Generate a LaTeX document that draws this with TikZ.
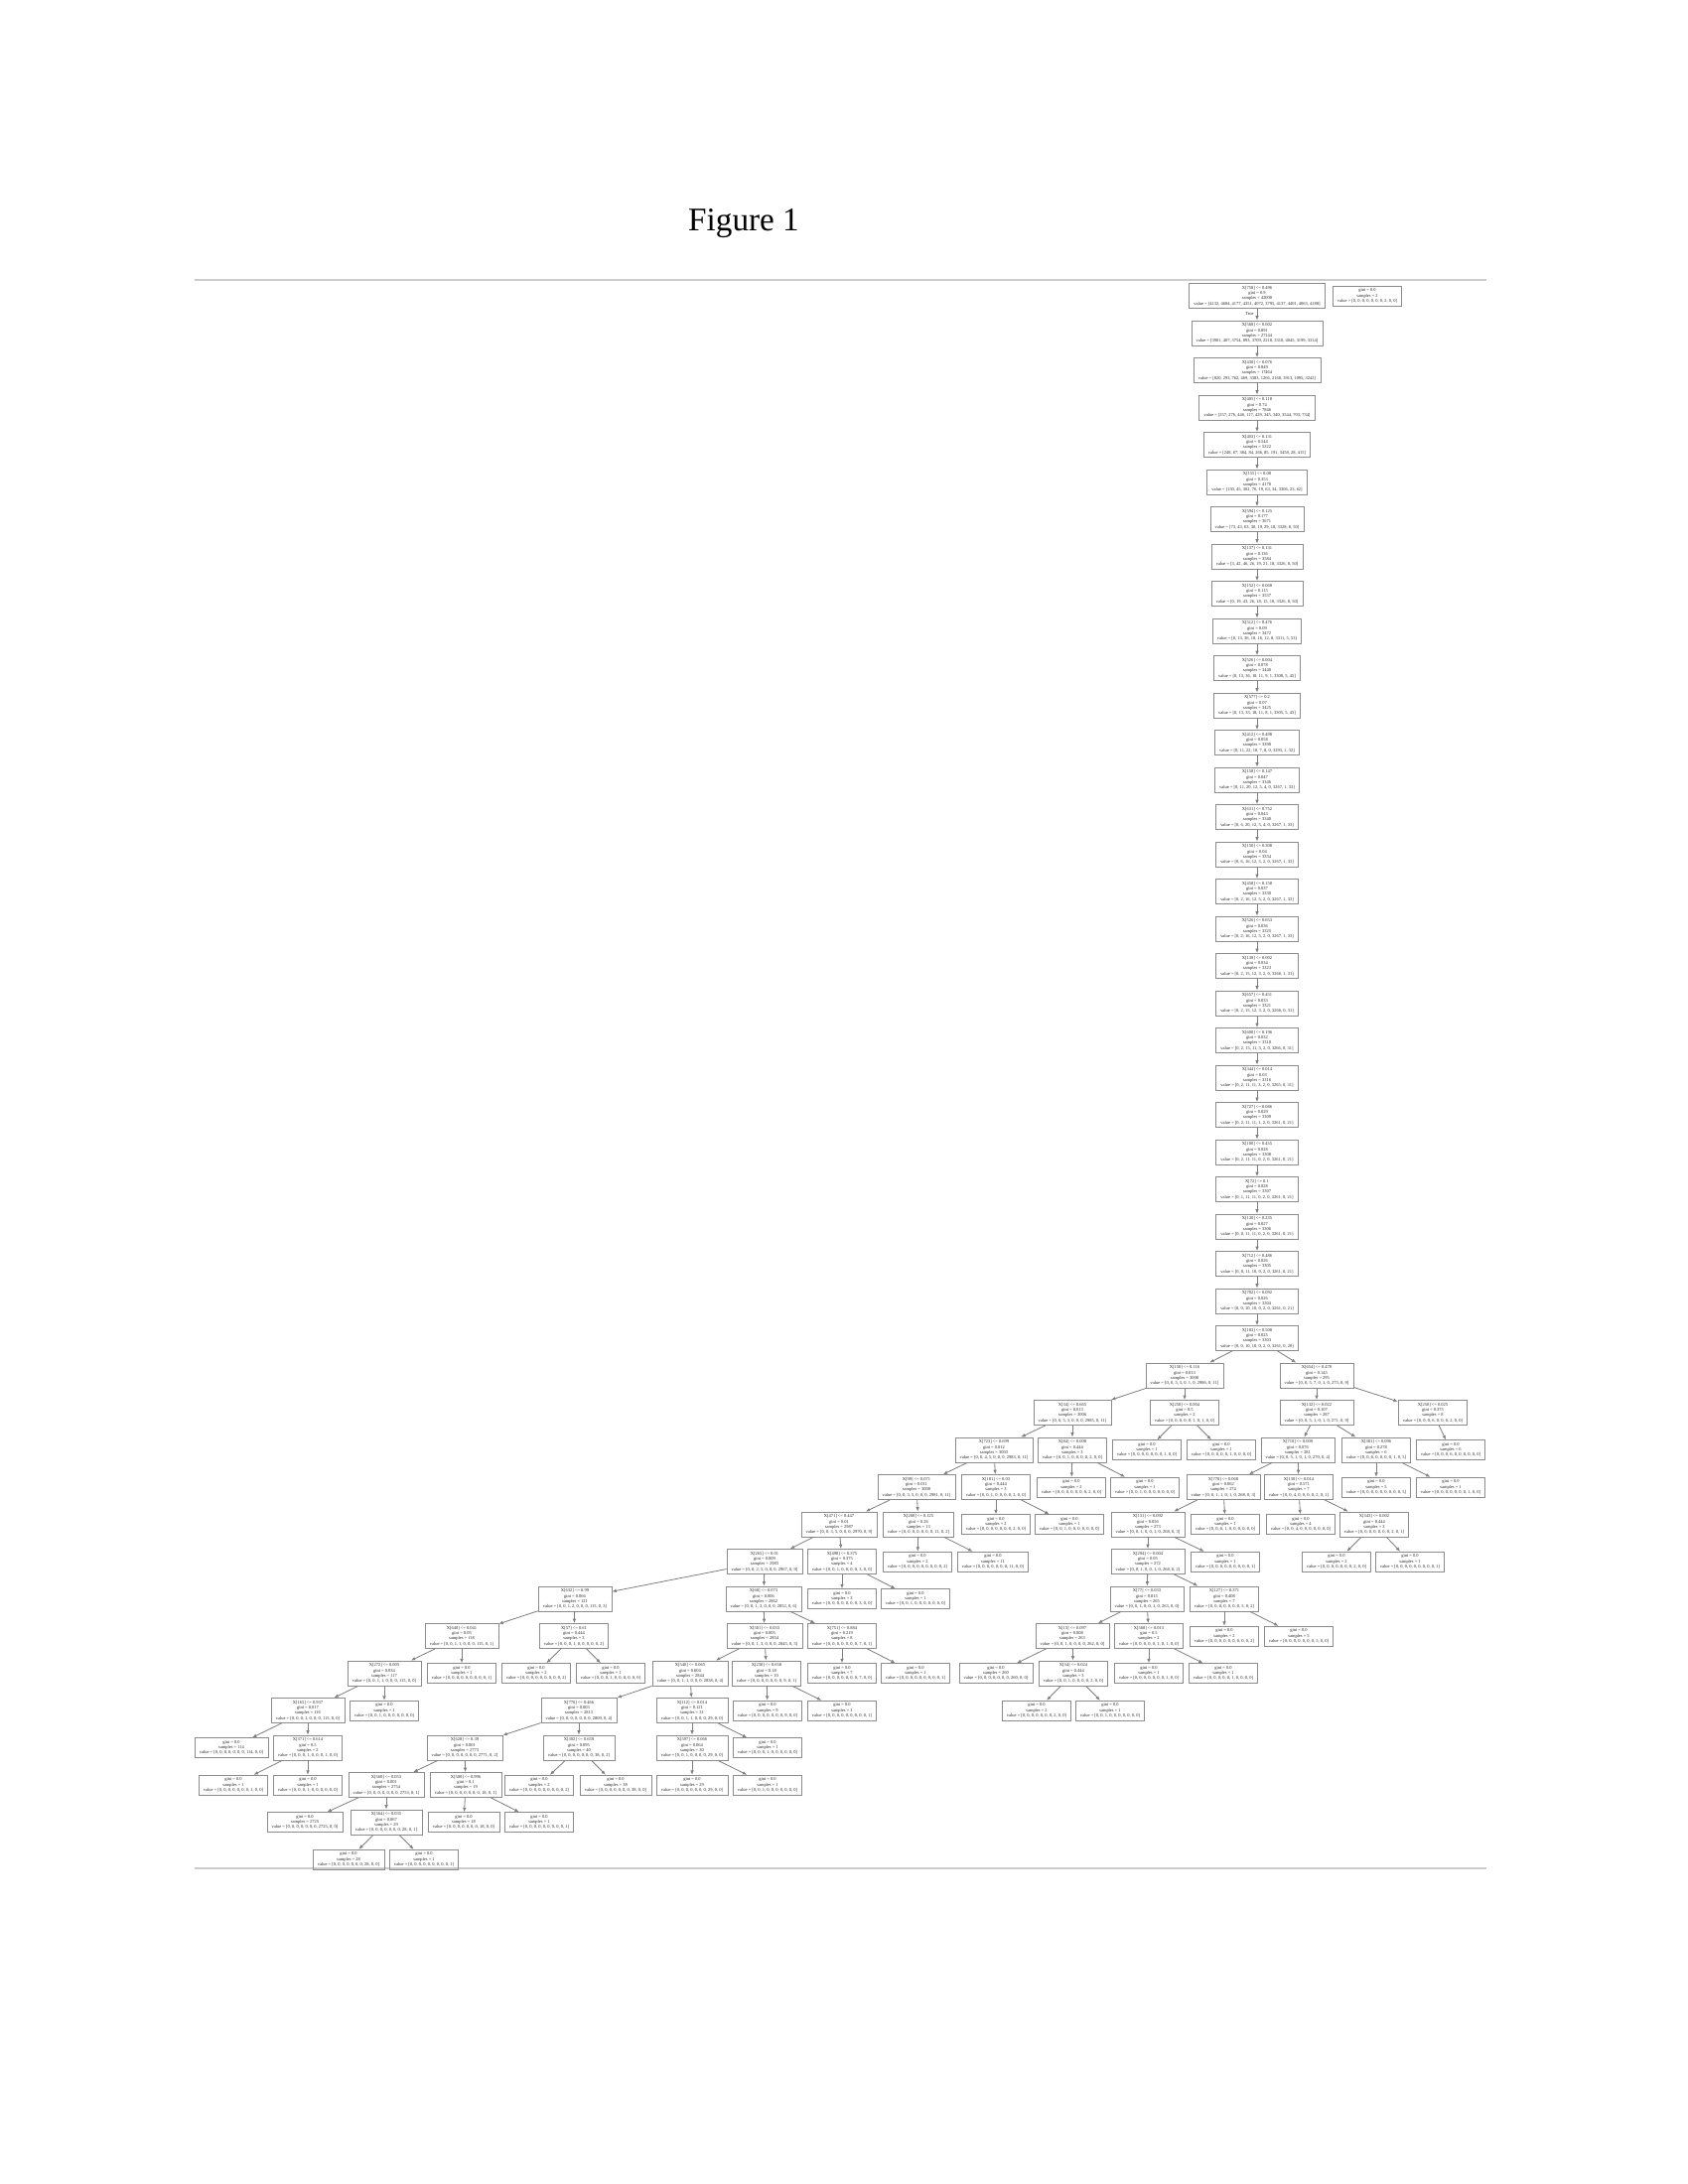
\documentclass[tikz,border=0pt]{standalone}
\usepackage{fontspec}
\setmainfont{Liberation Serif}
\usetikzlibrary{arrows.meta}
\newcommand\SN[5]{X[#1] <= #2\\gini = #3\\samples = #4\\value = [#5]}
\newcommand\LF[3]{gini = #1\\samples = #2\\value = [#3]}
\tikzset{
  tn/.style={draw=black!45, line width=0.25pt, rectangle, inner xsep=1.7pt, inner ysep=1pt,
    align=center, text=black!85, font=\fontsize{1.62pt}{1.9pt}\selectfont},
  ed/.style={draw=black!50, line width=0.3pt, -{Latex[length=1.6pt,width=1.3pt]}},
  rule/.style={draw=black!20, line width=0.4pt}
}
\begin{document}
\begin{tikzpicture}[x=0.127mm, y=-0.127mm]
\useasboundingbox (0,0) rectangle (1700,2200);
\node[anchor=base, font=\fontsize{12pt}{14pt}\selectfont, inner sep=0pt] (title) at (749,232) {Figure 1};
\coordinate (r1a) at (196,282); \coordinate (r1b) at (1497,282);
\coordinate (r2a) at (196,1882); \coordinate (r2b) at (1497,1882);
\draw[rule] (r1a) -- (r1b);
\draw[rule] (r2a) -- (r2b);

% ---- chain ----
\node[tn] (c0) at (1266,298) {\SN{758}{0.496}{0.9}{42000}{4132, 4684, 4177, 4351, 4072, 3795, 4137, 4401, 4063, 4188}};
\node[tn] (rootleaf) at (1377,298) {\LF{0.0}{2}{0, 0, 0, 0, 0, 0, 0, 2, 0, 0}};
\node[tn] (c1) at (1266,335.5) {\SN{568}{0.002}{0.891}{27144}{3901, 407, 3754, 893, 3709, 2218, 3310, 4045, 3199, 3314}};
\node[tn] (c2) at (1266,373) {\SN{430}{0.076}{0.849}{17464}{820, 293, 762, 469, 3383, 1266, 2168, 3913, 1095, 3242}};
\node[tn] (c3) at (1266,410.5) {\SN{405}{0.118}{0.74}{7846}{257, 276, 446, 117, 429, 345, 340, 3544, 703, 734}};
\node[tn] (c4) at (1266,448) {\SN{403}{0.131}{0.544}{5222}{248, 67, 384, 84, 266, 85, 191, 3458, 28, 415}};
\node[tn] (c5) at (1266,485.5) {\SN{155}{0.08}{0.353}{4170}{150, 45, 302, 76, 19, 63, 34, 3306, 23, 62}};
\node[tn] (c6) at (1266,523) {\SN{594}{0.125}{0.177}{3671}{73, 43, 63, 30, 19, 29, 18, 3328, 8, 50}};
\node[tn] (c7) at (1266,560.5) {\SN{137}{0.131}{0.136}{3584}{3, 42, 46, 26, 19, 21, 18, 3326, 8, 50}};
\node[tn] (c8) at (1266,598) {\SN{152}{0.068}{0.115}{3537}{0, 19, 43, 26, 18, 15, 18, 3326, 8, 50}};
\node[tn] (c9) at (1266,635.5) {\SN{512}{0.476}{0.09}{3472}{0, 13, 36, 18, 16, 12, 8, 3311, 5, 53}};
\node[tn] (c10) at (1266,673) {\SN{526}{0.004}{0.078}{3440}{0, 13, 36, 18, 11, 9, 1, 3308, 5, 45}};
\node[tn] (c11) at (1266,710.5) {\SN{577}{0.2}{0.07}{3425}{0, 13, 33, 18, 11, 8, 1, 3305, 5, 45}};
\node[tn] (c12) at (1266,748) {\SN{412}{0.498}{0.058}{3390}{0, 11, 22, 18, 7, 8, 0, 3293, 1, 32}};
\node[tn] (c13) at (1266,785.5) {\SN{158}{0.147}{0.047}{3346}{0, 11, 20, 12, 5, 4, 0, 3267, 1, 33}};
\node[tn] (c14) at (1266,823) {\SN{631}{0.752}{0.043}{3340}{0, 6, 20, 12, 5, 4, 0, 3267, 1, 33}};
\node[tn] (c15) at (1266,860.5) {\SN{150}{0.308}{0.04}{3334}{0, 6, 16, 12, 5, 2, 0, 3267, 1, 33}};
\node[tn] (c16) at (1266,898) {\SN{458}{0.158}{0.037}{3330}{0, 2, 16, 12, 5, 2, 0, 3267, 1, 33}};
\node[tn] (c17) at (1266,935.5) {\SN{526}{0.653}{0.036}{3325}{0, 2, 16, 12, 5, 2, 0, 3267, 1, 33}};
\node[tn] (c18) at (1266,973) {\SN{130}{0.002}{0.034}{3323}{0, 2, 15, 12, 3, 2, 0, 3266, 1, 31}};
\node[tn] (c19) at (1266,1010.5) {\SN{657}{0.451}{0.033}{3321}{0, 2, 15, 12, 3, 2, 0, 3266, 0, 31}};
\node[tn] (c20) at (1266,1048) {\SN{600}{0.196}{0.032}{3318}{0, 2, 15, 11, 3, 2, 0, 3266, 0, 31}};
\node[tn] (c21) at (1266,1085.5) {\SN{344}{0.014}{0.03}{3316}{0, 2, 11, 11, 3, 2, 0, 3265, 0, 31}};
\node[tn] (c22) at (1266,1123) {\SN{727}{0.086}{0.029}{3309}{0, 2, 11, 11, 1, 2, 0, 3261, 0, 21}};
\node[tn] (c23) at (1266,1160.5) {\SN{100}{0.455}{0.028}{3308}{0, 2, 11, 11, 0, 2, 0, 3261, 0, 21}};
\node[tn] (c24) at (1266,1198) {\SN{72}{0.1}{0.028}{3307}{0, 1, 11, 11, 0, 2, 0, 3261, 0, 21}};
\node[tn] (c25) at (1266,1235.5) {\SN{130}{0.235}{0.027}{3306}{0, 0, 11, 11, 0, 2, 0, 3261, 0, 21}};
\node[tn] (c26) at (1266,1273) {\SN{712}{0.486}{0.026}{3305}{0, 0, 11, 10, 0, 2, 0, 3261, 0, 21}};
\node[tn] (c27) at (1266,1310.5) {\SN{702}{0.092}{0.026}{3304}{0, 0, 10, 10, 0, 2, 0, 3261, 0, 21}};
\node[tn] (c28) at (1266,1348) {\SN{183}{0.508}{0.025}{3303}{0, 0, 10, 10, 0, 2, 0, 3261, 0, 20}};
\foreach \a/\b in {0/1,1/2,2/3,3/4,4/5,5/6,6/7,7/8,8/9,9/10,10/11,11/12,12/13,13/14,14/15,15/16,16/17,17/18,18/19,19/20,20/21,21/22,22/23,23/24,24/25,25/26,26/27,27/28}
  \draw[ed] (c\a) -- (c\b);
\node[tn, draw=none, anchor=east, inner sep=0pt] (truelbl) at (1263,316) {True};

% ---- row 29 ----
\node[tn] (n150) at (1193,1385.5) {\SN{150}{0.116}{0.013}{3008}{0, 0, 5, 5, 0, 1, 0, 2986, 0, 11}};
\node[tn] (n654) at (1326,1385.5) {\SN{654}{0.478}{0.145}{295}{0, 0, 5, 7, 0, 1, 0, 273, 0, 9}};
% ---- row 30 ----
\node[tn] (n34) at (1080,1423) {\SN{34}{0.665}{0.013}{3006}{0, 0, 5, 5, 0, 0, 0, 2985, 0, 11}};
\node[tn] (n258) at (1193,1423) {\SN{258}{0.004}{0.5}{2}{0, 0, 0, 0, 0, 1, 0, 1, 0, 0}};
\node[tn] (n132) at (1326,1423) {\SN{132}{0.022}{0.107}{287}{0, 0, 5, 1, 0, 1, 0, 271, 0, 9}};
\node[tn] (n250) at (1443,1423) {\SN{250}{0.025}{0.375}{8}{0, 0, 0, 6, 0, 0, 0, 2, 0, 0}};
% ---- row 31 ----
\node[tn] (n723) at (1001,1460.5) {\SN{723}{0.699}{0.012}{3003}{0, 0, 4, 5, 0, 0, 0, 2983, 0, 11}};
\node[tn] (n84) at (1080,1460.5) {\SN{84}{0.008}{0.444}{3}{0, 0, 1, 0, 0, 0, 0, 2, 0, 0}};
\node[tn] (l258a) at (1155,1460.5) {\LF{0.0}{1}{0, 0, 0, 0, 0, 0, 0, 1, 0, 0}};
\node[tn] (l258b) at (1230,1460.5) {\LF{0.0}{1}{0, 0, 0, 0, 0, 1, 0, 0, 0, 0}};
\node[tn] (n710) at (1307,1460.5) {\SN{710}{0.009}{0.076}{281}{0, 0, 5, 1, 0, 1, 0, 270, 0, 4}};
\node[tn] (n381) at (1386,1460.5) {\SN{381}{0.096}{0.278}{6}{0, 0, 0, 0, 0, 0, 0, 1, 0, 5}};
\node[tn] (l250) at (1461,1460.5) {\LF{0.0}{6}{0, 0, 0, 6, 0, 0, 0, 0, 0, 0}};
% ---- row 32 ----
\node[tn] (n99) at (923,1498) {\SN{99}{0.071}{0.011}{3000}{0, 0, 3, 5, 0, 0, 0, 2981, 0, 11}};
\node[tn] (n181) at (1003,1498) {\SN{181}{0.03}{0.444}{3}{0, 0, 1, 0, 0, 0, 0, 2, 0, 0}};
\node[tn] (l84a) at (1079,1498) {\LF{0.0}{2}{0, 0, 0, 0, 0, 0, 0, 2, 0, 0}};
\node[tn] (l84b) at (1153,1498) {\LF{0.0}{1}{0, 0, 1, 0, 0, 0, 0, 0, 0, 0}};
\node[tn] (n770) at (1232,1498) {\SN{770}{0.068}{0.062}{274}{0, 0, 1, 1, 0, 1, 0, 268, 0, 3}};
\node[tn] (n130b) at (1308,1498) {\SN{130}{0.014}{0.571}{7}{0, 0, 4, 0, 0, 0, 0, 2, 0, 1}};
\node[tn] (l381a) at (1386,1498) {\LF{0.0}{5}{0, 0, 0, 0, 0, 0, 0, 0, 0, 5}};
\node[tn] (l381b) at (1461,1498) {\LF{0.0}{1}{0, 0, 0, 0, 0, 0, 0, 1, 0, 0}};
% ---- row 33 ----
\node[tn] (n471) at (845,1535.5) {\SN{471}{0.447}{0.01}{2987}{0, 0, 3, 5, 0, 0, 0, 2970, 0, 9}};
\node[tn] (n200) at (925,1535.5) {\SN{200}{0.125}{0.26}{13}{0, 0, 0, 0, 0, 0, 0, 11, 0, 2}};
\node[tn] (l181a) at (1003,1535.5) {\LF{0.0}{2}{0, 0, 0, 0, 0, 0, 0, 2, 0, 0}};
\node[tn] (l181b) at (1077,1535.5) {\LF{0.0}{1}{0, 0, 1, 0, 0, 0, 0, 0, 0, 0}};
\node[tn] (n131) at (1156,1535.5) {\SN{131}{0.092}{0.056}{273}{0, 0, 1, 0, 0, 1, 0, 268, 0, 3}};
\node[tn] (l770) at (1234,1535.5) {\LF{0.0}{1}{0, 0, 0, 1, 0, 0, 0, 0, 0, 0}};
\node[tn] (l130b) at (1310,1535.5) {\LF{0.0}{4}{0, 0, 4, 0, 0, 0, 0, 0, 0, 0}};
\node[tn] (n343) at (1384,1535.5) {\SN{343}{0.002}{0.444}{3}{0, 0, 0, 0, 0, 0, 0, 2, 0, 1}};
% ---- row 34 ----
\node[tn] (n265) at (770,1573) {\SN{265}{0.01}{0.009}{2983}{0, 0, 2, 5, 0, 0, 0, 2967, 0, 9}};
\node[tn] (n498) at (848,1573) {\SN{498}{0.375}{0.375}{4}{0, 0, 1, 0, 0, 0, 0, 3, 0, 0}};
\node[tn] (l200a) at (924,1573) {\LF{0.0}{2}{0, 0, 0, 0, 0, 0, 0, 0, 0, 2}};
\node[tn] (l200b) at (1000,1573) {\LF{0.0}{11}{0, 0, 0, 0, 0, 0, 0, 11, 0, 0}};
\node[tn] (n294) at (1156,1573) {\SN{294}{0.004}{0.05}{272}{0, 0, 1, 0, 0, 1, 0, 268, 0, 2}};
\node[tn] (l131) at (1234,1573) {\LF{0.0}{1}{0, 0, 0, 0, 0, 0, 0, 0, 0, 1}};
\node[tn] (l343a) at (1346,1573) {\LF{0.0}{2}{0, 0, 0, 0, 0, 0, 0, 2, 0, 0}};
\node[tn] (l343b) at (1420,1573) {\LF{0.0}{1}{0, 0, 0, 0, 0, 0, 0, 0, 0, 1}};
% ---- row 35 ----
\node[tn] (n632) at (579,1610.5) {\SN{632}{0.99}{0.066}{121}{0, 0, 1, 2, 0, 0, 0, 115, 0, 3}};
\node[tn] (n68) at (769,1610.5) {\SN{68}{0.073}{0.006}{2862}{0, 0, 1, 3, 0, 0, 0, 2852, 0, 6}};
\node[tn] (l498a) at (848,1610.5) {\LF{0.0}{3}{0, 0, 0, 0, 0, 0, 0, 3, 0, 0}};
\node[tn] (l498b) at (922,1610.5) {\LF{0.0}{1}{0, 0, 1, 0, 0, 0, 0, 0, 0, 0}};
\node[tn] (n77) at (1155,1610.5) {\SN{77}{0.033}{0.015}{265}{0, 0, 1, 0, 0, 1, 0, 263, 0, 0}};
\node[tn] (n127) at (1233,1610.5) {\SN{127}{0.371}{0.408}{7}{0, 0, 0, 0, 0, 0, 0, 5, 0, 2}};
% ---- row 36 ----
\node[tn] (n640) at (465,1648) {\SN{640}{0.041}{0.05}{118}{0, 0, 1, 1, 0, 0, 0, 115, 0, 1}};
\node[tn] (n57) at (578,1648) {\SN{57}{0.61}{0.444}{3}{0, 0, 0, 1, 0, 0, 0, 0, 0, 2}};
\node[tn] (n501) at (770,1648) {\SN{501}{0.033}{0.005}{2854}{0, 0, 1, 3, 0, 0, 0, 2845, 0, 5}};
\node[tn] (n751) at (848,1648) {\SN{751}{0.884}{0.219}{8}{0, 0, 0, 0, 0, 0, 0, 7, 0, 1}};
\node[tn] (n13) at (1080,1648) {\SN{13}{0.097}{0.008}{263}{0, 0, 1, 0, 0, 0, 0, 262, 0, 0}};
\node[tn] (n568) at (1157,1648) {\SN{568}{0.013}{0.5}{2}{0, 0, 0, 0, 0, 1, 0, 1, 0, 0}};
\node[tn] (l127a) at (1233,1648) {\LF{0.0}{2}{0, 0, 0, 0, 0, 0, 0, 0, 0, 2}};
\node[tn] (l127b) at (1308,1648) {\LF{0.0}{5}{0, 0, 0, 0, 0, 0, 0, 5, 0, 0}};
% ---- row 37 ----
\node[tn] (n272) at (387,1685.5) {\SN{272}{0.005}{0.034}{117}{0, 0, 1, 1, 0, 0, 0, 115, 0, 0}};
\node[tn] (l640) at (465,1685.5) {\LF{0.0}{1}{0, 0, 0, 0, 0, 0, 0, 0, 0, 1}};
\node[tn] (l57a) at (540,1685.5) {\LF{0.0}{2}{0, 0, 0, 0, 0, 0, 0, 0, 0, 2}};
\node[tn] (l57b) at (615,1685.5) {\LF{0.0}{1}{0, 0, 0, 1, 0, 0, 0, 0, 0, 0}};
\node[tn] (n540) at (695,1685.5) {\SN{540}{0.065}{0.004}{2844}{0, 0, 1, 1, 0, 0, 0, 2838, 0, 4}};
\node[tn] (n230) at (772,1685.5) {\SN{230}{0.658}{0.18}{10}{0, 0, 0, 0, 0, 0, 0, 9, 0, 1}};
\node[tn] (l751a) at (848,1685.5) {\LF{0.0}{7}{0, 0, 0, 0, 0, 0, 0, 7, 0, 0}};
\node[tn] (l751b) at (922,1685.5) {\LF{0.0}{1}{0, 0, 0, 0, 0, 0, 0, 0, 0, 1}};
\node[tn] (l13) at (1003,1685.5) {\LF{0.0}{260}{0, 0, 0, 0, 0, 0, 0, 260, 0, 0}};
\node[tn] (n34b) at (1081,1685.5) {\SN{34}{0.024}{0.444}{3}{0, 0, 1, 0, 0, 0, 0, 2, 0, 0}};
\node[tn] (l568a) at (1157,1685.5) {\LF{0.0}{1}{0, 0, 0, 0, 0, 0, 0, 1, 0, 0}};
\node[tn] (l568b) at (1232,1685.5) {\LF{0.0}{1}{0, 0, 0, 0, 0, 1, 0, 0, 0, 0}};
% ---- row 38 ----
\node[tn] (n165) at (310,1723) {\SN{165}{0.937}{0.017}{116}{0, 0, 0, 1, 0, 0, 0, 115, 0, 0}};
\node[tn] (l272) at (387,1723) {\LF{0.0}{1}{0, 0, 1, 0, 0, 0, 0, 0, 0, 0}};
\node[tn] (n776) at (583,1723) {\SN{776}{0.466}{0.003}{2813}{0, 0, 0, 0, 0, 0, 0, 2809, 0, 4}};
\node[tn] (n112) at (697,1723) {\SN{112}{0.014}{0.121}{31}{0, 0, 1, 1, 0, 0, 0, 29, 0, 0}};
\node[tn] (l230a) at (773,1723) {\LF{0.0}{9}{0, 0, 0, 0, 0, 0, 0, 9, 0, 0}};
\node[tn] (l230b) at (848,1723) {\LF{0.0}{1}{0, 0, 0, 0, 0, 0, 0, 0, 0, 1}};
\node[tn] (l34a) at (1044,1723) {\LF{0.0}{2}{0, 0, 0, 0, 0, 0, 0, 2, 0, 0}};
\node[tn] (l34b) at (1118,1723) {\LF{0.0}{1}{0, 0, 1, 0, 0, 0, 0, 0, 0, 0}};
% ---- row 39 ----
\node[tn] (l165) at (233,1760.5) {\LF{0.0}{114}{0, 0, 0, 0, 0, 0, 0, 114, 0, 0}};
\node[tn] (n371) at (310,1760.5) {\SN{371}{0.614}{0.5}{2}{0, 0, 0, 1, 0, 0, 0, 1, 0, 0}};
\node[tn] (n628) at (468,1760.5) {\SN{628}{0.39}{0.001}{2773}{0, 0, 0, 0, 0, 0, 0, 2771, 0, 2}};
\node[tn] (n302) at (583,1760.5) {\SN{302}{0.659}{0.095}{40}{0, 0, 0, 0, 0, 0, 0, 38, 0, 2}};
\node[tn] (n597) at (697,1760.5) {\SN{597}{0.066}{0.064}{30}{0, 0, 1, 0, 0, 0, 0, 29, 0, 0}};
\node[tn] (l112) at (773,1760.5) {\LF{0.0}{1}{0, 0, 0, 1, 0, 0, 0, 0, 0, 0}};
% ---- row 40 ----
\node[tn] (l371a) at (235,1798) {\LF{0.0}{1}{0, 0, 0, 0, 0, 0, 0, 1, 0, 0}};
\node[tn] (l371b) at (310,1798) {\LF{0.0}{1}{0, 0, 0, 1, 0, 0, 0, 0, 0, 0}};
\node[tn] (n560) at (389,1798) {\SN{560}{0.053}{0.001}{2754}{0, 0, 0, 0, 0, 0, 0, 2753, 0, 1}};
\node[tn] (n500) at (469,1798) {\SN{500}{0.996}{0.1}{19}{0, 0, 0, 0, 0, 0, 0, 18, 0, 1}};
\node[tn] (l302a) at (543,1798) {\LF{0.0}{2}{0, 0, 0, 0, 0, 0, 0, 0, 0, 2}};
\node[tn] (l302b) at (620,1798) {\LF{0.0}{38}{0, 0, 0, 0, 0, 0, 0, 38, 0, 0}};
\node[tn] (l597a) at (697,1798) {\LF{0.0}{29}{0, 0, 0, 0, 0, 0, 0, 29, 0, 0}};
\node[tn] (l597b) at (773,1798) {\LF{0.0}{1}{0, 0, 1, 0, 0, 0, 0, 0, 0, 0}};
% ---- row 41 ----
\node[tn] (l560) at (307,1835.5) {\LF{0.0}{2725}{0, 0, 0, 0, 0, 0, 0, 2725, 0, 0}};
\node[tn] (n564) at (389,1835.5) {\SN{564}{0.035}{0.067}{29}{0, 0, 0, 0, 0, 0, 0, 28, 0, 1}};
\node[tn] (l500a) at (467,1835.5) {\LF{0.0}{18}{0, 0, 0, 0, 0, 0, 0, 18, 0, 0}};
\node[tn] (l500b) at (543,1835.5) {\LF{0.0}{1}{0, 0, 0, 0, 0, 0, 0, 0, 0, 1}};
% ---- row 42 ----
\node[tn] (l564a) at (351,1873) {\LF{0.0}{28}{0, 0, 0, 0, 0, 0, 0, 28, 0, 0}};
\node[tn] (l564b) at (427,1873) {\LF{0.0}{1}{0, 0, 0, 0, 0, 0, 0, 0, 0, 1}};

% ---- edges ----
\foreach \p/\c in {c28/n150, c28/n654,
  n150/n34, n150/n258, n654/n132, n654/n250,
  n34/n723, n34/n84, n258/l258a, n258/l258b, n132/n710, n132/n381, n250/l250,
  n723/n99, n723/n181, n84/l84a, n84/l84b, n710/n770, n710/n130b, n381/l381a, n381/l381b,
  n99/n471, n99/n200, n181/l181a, n181/l181b, n770/n131, n770/l770, n130b/l130b, n130b/n343,
  n471/n265, n471/n498, n200/l200a, n200/l200b, n131/n294, n131/l131, n343/l343a, n343/l343b,
  n265/n632, n265/n68, n498/l498a, n498/l498b, n294/n77, n294/n127,
  n632/n640, n632/n57, n68/n501, n68/n751, n77/n13, n77/n568, n127/l127a, n127/l127b,
  n640/n272, n640/l640, n57/l57a, n57/l57b, n501/n540, n501/n230, n751/l751a, n751/l751b,
  n13/l13, n13/n34b, n568/l568a, n568/l568b,
  n272/n165, n272/l272, n540/n776, n540/n112, n230/l230a, n230/l230b, n34b/l34a, n34b/l34b,
  n165/l165, n165/n371, n776/n628, n776/n302, n112/n597, n112/l112,
  n371/l371a, n371/l371b, n628/n560, n628/n500, n302/l302a, n302/l302b, n597/l597a, n597/l597b,
  n560/l560, n560/n564, n500/l500a, n500/l500b, n564/l564a, n564/l564b}
  \draw[ed] (\p) -- (\c);
\end{tikzpicture}
\end{document}
